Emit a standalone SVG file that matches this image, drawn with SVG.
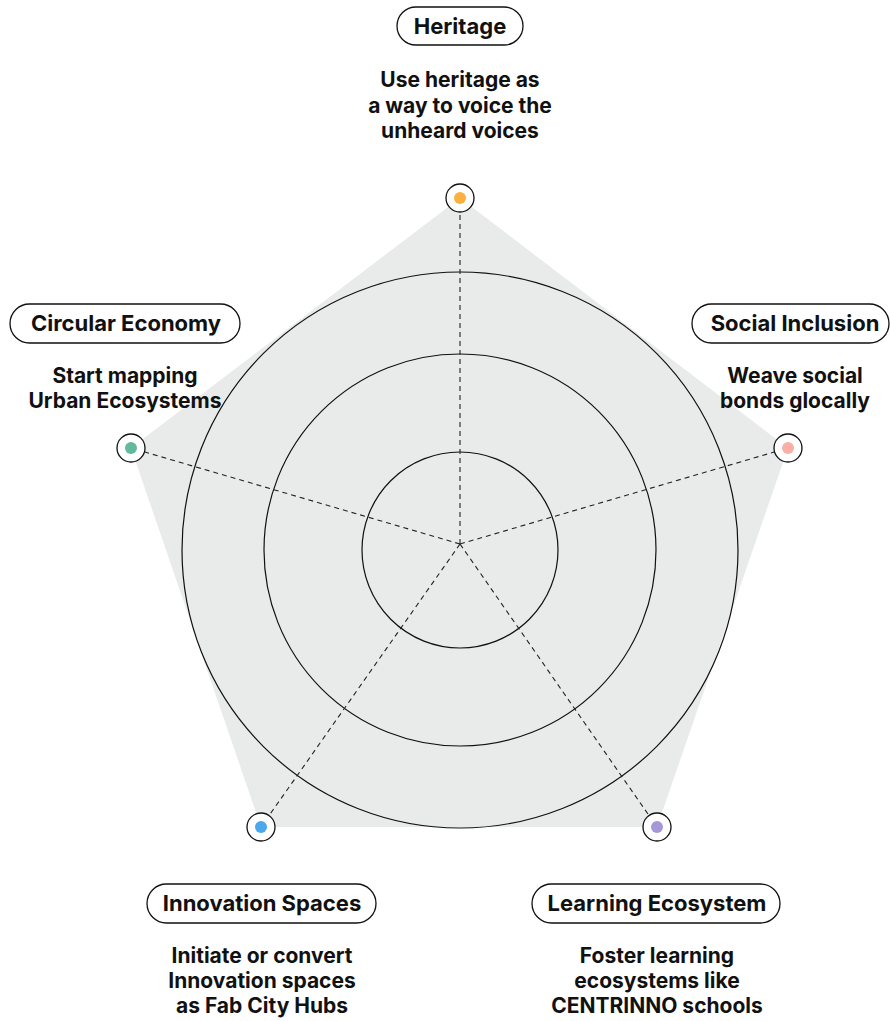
<svg xmlns="http://www.w3.org/2000/svg" width="890" height="1021" viewBox="0 0 890 1021">
<style>
  .pill { fill: #ffffff; stroke: #111111; stroke-width: 1.3; }
  .ptxt { font-family: Inter, "Liberation Sans", sans-serif; font-weight: 700; font-size: 22px; fill: #111111; text-anchor: middle; }
  .dtxt { font-family: Inter, "Liberation Sans", sans-serif; font-weight: 700; font-size: 21px; fill: #111111; text-anchor: middle; }
  .ring { fill: #ffffff; stroke: #111111; stroke-width: 1.3; }
  .grid { fill: none; stroke: #111111; stroke-width: 1.2; }
  .dash { stroke: #222222; stroke-width: 1.1; stroke-dasharray: 5 4; fill: none; }
</style>
<g id="background">
  <polygon points="460,198 788,448 657,827 261,827 131,448" fill="#E9EAEA"/>
  <circle class="grid" cx="460" cy="550" r="278"/>
  <circle class="grid" cx="460" cy="550" r="196"/>
  <circle class="grid" cx="460" cy="550" r="98"/>
</g>
<g id="connectors">
  <line class="dash" x1="460" y1="544" x2="460" y2="198"/>
  <line class="dash" x1="460" y1="544" x2="788" y2="448"/>
  <line class="dash" x1="460" y1="544" x2="657" y2="827"/>
  <line class="dash" x1="460" y1="544" x2="261" y2="827"/>
  <line class="dash" x1="460" y1="544" x2="131" y2="448"/>
</g>
<g id="heritage">
  <rect class="pill" x="397" y="7" width="126" height="38" rx="19"/>
  <text class="ptxt" x="460" y="34">Heritage</text>
  <text class="dtxt" x="460" y="87">Use heritage as</text>
  <text class="dtxt" x="460" y="113">a way to voice the</text>
  <text class="dtxt" x="460" y="138">unheard voices</text>
  <circle class="ring" cx="460" cy="198" r="14"/>
  <circle cx="460" cy="198" r="6" fill="#FBB040"/>
</g>
<g id="social-inclusion">
  <rect class="pill" x="692" y="304" width="197" height="39" rx="19.5"/>
  <text class="ptxt" x="795" y="331">Social Inclusion</text>
  <text class="dtxt" x="795" y="383">Weave social</text>
  <text class="dtxt" x="795" y="408">bonds glocally</text>
  <circle class="ring" cx="788" cy="448" r="14"/>
  <circle cx="788" cy="448" r="6" fill="#F9AFA6"/>
</g>
<g id="learning-ecosystem">
  <rect class="pill" x="532" y="884" width="248" height="39" rx="19.5"/>
  <text class="ptxt" x="657" y="911">Learning Ecosystem</text>
  <text class="dtxt" x="657" y="963">Foster learning</text>
  <text class="dtxt" x="657" y="988">ecosystems like</text>
  <text class="dtxt" x="657" y="1013">CENTRINNO schools</text>
  <circle class="ring" cx="657" cy="827" r="14"/>
  <circle cx="657" cy="827" r="6" fill="#A597D8"/>
</g>
<g id="innovation-spaces">
  <rect class="pill" x="147" y="884" width="229" height="39" rx="19.5"/>
  <text class="ptxt" x="262" y="911">Innovation Spaces</text>
  <text class="dtxt" x="262" y="963">Initiate or convert</text>
  <text class="dtxt" x="262" y="988">Innovation spaces</text>
  <text class="dtxt" x="262" y="1013">as Fab City Hubs</text>
  <circle class="ring" cx="261" cy="827" r="14"/>
  <circle cx="261" cy="827" r="6" fill="#4AA8EC"/>
</g>
<g id="circular-economy">
  <rect class="pill" x="10" y="304" width="230" height="39" rx="19.5"/>
  <text class="ptxt" x="126" y="331">Circular Economy</text>
  <text class="dtxt" x="125" y="383">Start mapping</text>
  <text class="dtxt" x="125" y="408">Urban Ecosystems</text>
  <circle class="ring" cx="131" cy="448" r="14"/>
  <circle cx="131" cy="448" r="6" fill="#63BA9B"/>
</g>
</svg>
